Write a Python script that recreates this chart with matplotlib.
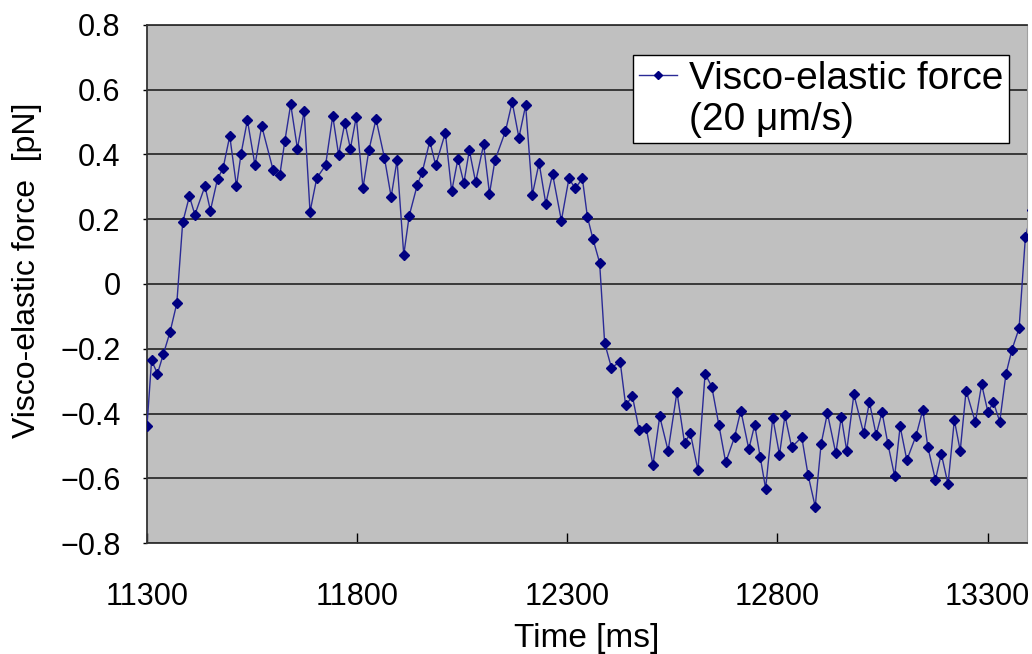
import matplotlib
matplotlib.use("Agg")
import matplotlib.pyplot as plt
from matplotlib.lines import Line2D

plt.rcParams['font.family'] = ['Liberation Sans', 'DejaVu Sans']

# time [ms] and visco-elastic force [pN]
time_ms = [
    11285, 11300, 11311, 11325, 11339, 11355, 11371, 11385, 11401, 11414, 11438,
    11451, 11468, 11481, 11497, 11513, 11524, 11539, 11557, 11573, 11600,
    11616, 11628, 11642, 11658, 11674, 11688, 11704, 11725, 11742, 11756,
    11771, 11784, 11798, 11814, 11828, 11845, 11865, 11881, 11895, 11911,
    11924, 11943, 11955, 11973, 11987, 12010, 12025, 12040, 12054, 12067,
    12082, 12101, 12115, 12128, 12153, 12169, 12185, 12201, 12217, 12233,
    12249, 12265, 12286, 12304, 12319, 12336, 12348, 12361, 12377, 12389,
    12405, 12426, 12439, 12455, 12471, 12488, 12504, 12520, 12540, 12561,
    12579, 12593, 12611, 12628, 12644, 12661, 12677, 12698, 12713, 12732,
    12746, 12759, 12772, 12789, 12805, 12818, 12834, 12858, 12873, 12890,
    12904, 12919, 12939, 12952, 12965, 12982, 13005, 13019, 13035, 13049,
    13063, 13079, 13092, 13108, 13130, 13146, 13158, 13176, 13190, 13206,
    13221, 13235, 13249, 13271, 13286, 13301, 13314, 13329, 13344, 13358,
    13375, 13390, 13406,
]
force_pN = [
    -0.470, -0.439, -0.236, -0.277, -0.217, -0.148, -0.060, 0.190, 0.271, 0.214, 0.302,
    0.227, 0.325, 0.357, 0.457, 0.302, 0.403, 0.506, 0.367, 0.488, 0.353,
    0.336, 0.441, 0.555, 0.418, 0.534, 0.223, 0.327, 0.367, 0.519, 0.399,
    0.498, 0.418, 0.516, 0.297, 0.413, 0.509, 0.390, 0.269, 0.382, 0.090,
    0.211, 0.305, 0.346, 0.441, 0.367, 0.467, 0.286, 0.387, 0.312, 0.413,
    0.315, 0.431, 0.279, 0.382, 0.472, 0.562, 0.452, 0.552, 0.276, 0.374,
    0.248, 0.340, 0.196, 0.326, 0.295, 0.326, 0.207, 0.140, 0.066, -0.182,
    -0.258, -0.241, -0.375, -0.346, -0.451, -0.445, -0.559, -0.409, -0.515, -0.334,
    -0.491, -0.461, -0.575, -0.277, -0.318, -0.437, -0.551, -0.473, -0.391, -0.510,
    -0.435, -0.533, -0.632, -0.413, -0.527, -0.406, -0.504, -0.473, -0.590, -0.688,
    -0.494, -0.399, -0.523, -0.411, -0.515, -0.341, -0.460, -0.365, -0.466, -0.396,
    -0.494, -0.594, -0.440, -0.544, -0.468, -0.389, -0.504, -0.605, -0.525, -0.618,
    -0.420, -0.515, -0.329, -0.427, -0.310, -0.396, -0.365, -0.425, -0.277, -0.203,
    -0.137, 0.144, 0.230,
]

x_ticks = [11300, 11800, 12300, 12800, 13300]
y_ticks = [-0.8, -0.6, -0.4, -0.2, 0, 0.2, 0.4, 0.6, 0.8]
y_tick_labels = ['\u22120.8', '\u22120.6', '\u22120.4', '\u22120.2', '0',
                 '0.2', '0.4', '0.6', '0.8']

fig = plt.figure(figsize=(10.32, 6.54), dpi=100)
ax = fig.add_axes([0.1424, 0.1697, 0.8528, 0.7921])
ax.set_facecolor('#c0c0c0')

ax.plot(time_ms, force_pN, color='#2a2a96', lw=1.0, marker='D', ms=5,
        mfc='#000080', mec='#000080', zorder=3)

ax.set_xlim(11300, 13394)
ax.set_ylim(-0.8, 0.8)
ax.set_xticks(x_ticks)
ax.set_xticklabels([str(t) for t in x_ticks])
ax.set_yticks(y_ticks)
ax.set_yticklabels(y_tick_labels)

ax.grid(axis='y', color='#222222', lw=1.2)
ax.set_axisbelow(True)

for side in ['left', 'bottom', 'top']:
    ax.spines[side].set_color('#333333')
    ax.spines[side].set_linewidth(1.3)
ax.spines['right'].set_color('#a0a0a0')

ax.tick_params(axis='x', direction='in', length=7, width=1, pad=28,
               labelsize=22, top=False)
ax.tick_params(axis='y', direction='out', length=3, width=1, pad=16,
               labelsize=22)

ax.set_xlabel('Time [ms]', fontsize=24)
ax.xaxis.set_label_coords(0.5, -0.155)
ax.xaxis.label.set_va('top')
ax.set_ylabel('Visco-elastic force  [pN]', fontsize=23)
ax.yaxis.set_label_coords(-0.119, 0.527)

handles = [Line2D([], [], color='#2a2a96', lw=1.0, marker='D', ms=4,
                  mfc='#000080', mec='#000080'),
           Line2D([], [], color='none')]
leg = ax.legend(handles, ['Visco-elastic force', '(20 \u03bcm/s)'],
                loc='upper left', bbox_to_anchor=(0.552, 0.942),
                borderaxespad=0, fontsize=28, frameon=True, fancybox=False,
                edgecolor='black', framealpha=1, handlelength=1.0,
                handletextpad=0.3, labelspacing=0.12, borderpad=0.15)
leg.get_frame().set_linewidth(1.0)

fig.savefig('out.png', dpi=100)
